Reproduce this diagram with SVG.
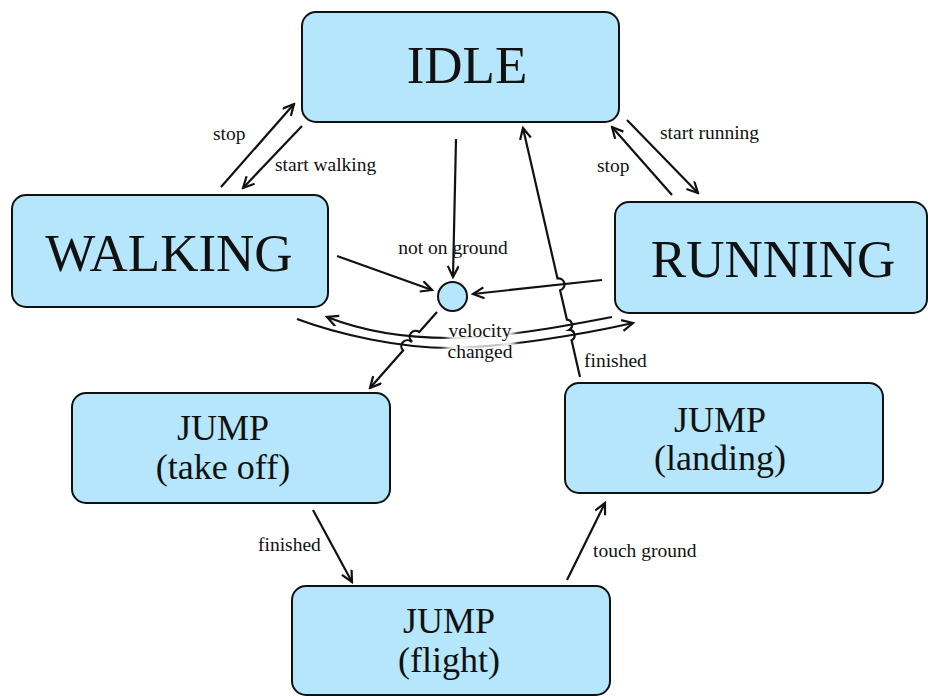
<svg xmlns="http://www.w3.org/2000/svg" width="928" height="696" viewBox="0 0 928 696">
  <style>
    .node rect { fill: #b5e6fb; stroke: #111; stroke-width: 2; }
    .node circle { fill: #b5e6fb; stroke: #111; stroke-width: 2; }
    .big { font-family: "Liberation Serif", "Times New Roman", serif; font-size: 53px; fill: #111; text-anchor: middle; }
    .mid { font-family: "Liberation Serif", "Times New Roman", serif; font-size: 36px; fill: #111; text-anchor: middle; }
    .lbl { font-family: "Liberation Serif", "Times New Roman", serif; font-size: 19.5px; fill: #111; }
    .halo { fill: #fff; stroke: #fff; stroke-width: 10; stroke-linejoin: round; filter: url(#soft); }
    .edge { fill: none; stroke: #111; stroke-width: 2.2; marker-end: url(#arr); }
  </style>
  <defs>
    <marker id="arr" viewBox="0 0 14 14" refX="12" refY="6" markerWidth="14" markerHeight="14" markerUnits="userSpaceOnUse" orient="auto">
      <path d="M1,0.5 L12,6 L1,11.5" fill="none" stroke="#111" stroke-width="2.2"/>
    </marker>
    <!-- feathered edge for the white backdrop behind crossing-line labels -->
    <filter id="soft" x="-30%" y="-80%" width="160%" height="260%">
      <feGaussianBlur stdDeviation="3.5"/>
    </filter>
  </defs>

  <rect width="928" height="696" fill="#ffffff"/>

  <!-- transitions -->
  <g id="edges">
    <path class="edge" d="M221,187 L294,104"/>
    <path class="edge" d="M302,126 L243,188"/>
    <path class="edge" d="M627,120 L698,193"/>
    <path class="edge" d="M672,195 L612,127"/>
    <path class="edge" d="M456,139 L453,277"/>
    <path class="edge" d="M337,256 L432,290"/>
    <path class="edge" d="M602,280 L473,294"/>
    <path class="edge" d="M612,317 C560,327 500,338 450,338 S360,330 327,317"/>
    <path class="edge" d="M297,319 C340,335 400,348 450,348 S580,335 633,323"/>
    <path class="edge" d="M437,312 L419.3,332.1 A6,6 0 0 0 411.4,341.1 L411,341.5 A6,6 0 0 0 403.1,350.5 L370,388"/>
    <path class="edge" d="M580,377 L571.6,340.3 A5.5,5.5 0 0 0 569.2,329.9 A5.5,5.5 0 0 0 566.9,319.6 L560.1,290.2 A6,6 0 0 0 557.5,278.5 L523,128"/>
    <path class="edge" d="M313,510 L352,582"/>
    <path class="edge" d="M567,580 L605,503"/>
  </g>

  <!-- edge labels -->
  <g id="labels">
    <text class="lbl" x="213" y="140">stop</text>
    <text class="lbl" x="275" y="171">start walking</text>
    <text class="lbl" x="660" y="139">start running</text>
    <text class="lbl" x="597" y="172">stop</text>
    <text class="lbl" x="453" y="254" text-anchor="middle">not on ground</text>
    <text class="lbl halo" x="480" y="337" text-anchor="middle">velocity</text>
    <text class="lbl halo" x="480" y="358" text-anchor="middle">changed</text>
    <text class="lbl" x="480" y="337" text-anchor="middle">velocity</text>
    <text class="lbl" x="480" y="358" text-anchor="middle">changed</text>
    <text class="lbl" x="584" y="367">finished</text>
    <text class="lbl" x="258" y="551">finished</text>
    <text class="lbl" x="593" y="557">touch ground</text>
  </g>

  <!-- states -->
  <g id="idle" class="node">
    <rect x="302" y="12" width="317" height="110" rx="14"/>
    <text class="big" x="467" y="83">IDLE</text>
  </g>
  <g id="walking" class="node">
    <rect x="12" y="195" width="316" height="112" rx="14"/>
    <text class="big" x="169" y="271">WALKING</text>
  </g>
  <g id="running" class="node">
    <rect x="615" y="202" width="312" height="111" rx="14"/>
    <text class="big" x="773" y="277">RUNNING</text>
  </g>
  <g id="airborne" class="node">
    <circle cx="452.5" cy="296.5" r="14.5"/>
  </g>
  <g id="jump-takeoff" class="node">
    <rect x="72" y="393" width="318" height="110" rx="14"/>
    <text class="mid" x="223" y="440">JUMP</text>
    <text class="mid" x="223" y="479">(take off)</text>
  </g>
  <g id="jump-landing" class="node">
    <rect x="565" y="383" width="318" height="110" rx="14"/>
    <text class="mid" x="720" y="432">JUMP</text>
    <text class="mid" x="720" y="470">(landing)</text>
  </g>
  <g id="jump-flight" class="node">
    <rect x="292" y="586" width="318" height="109" rx="14"/>
    <text class="mid" x="449" y="633">JUMP</text>
    <text class="mid" x="449" y="672">(flight)</text>
  </g>
</svg>
